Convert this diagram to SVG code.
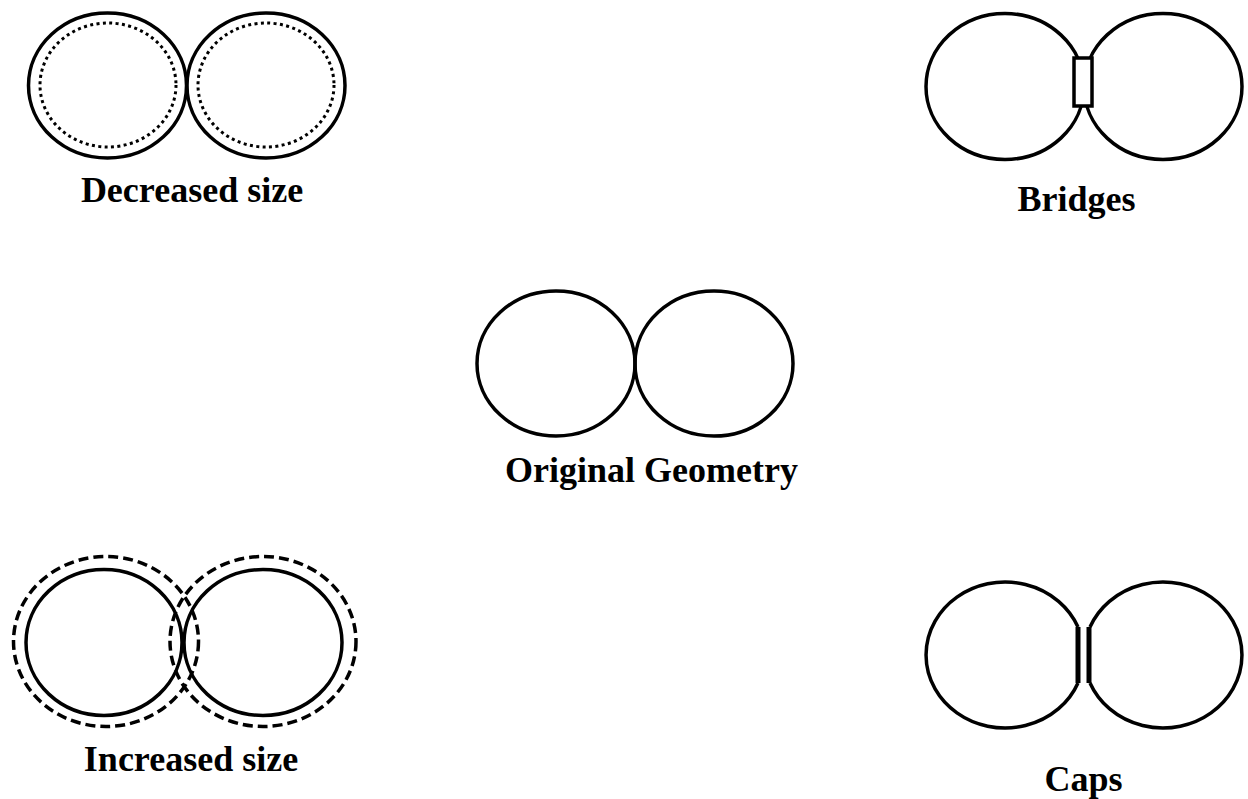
<svg xmlns="http://www.w3.org/2000/svg" width="1248" height="799" viewBox="0 0 1248 799">
<style>
.s{fill:none;stroke:#000;stroke-width:3.5}
.dot{fill:none;stroke:#000;stroke-width:3;stroke-dasharray:3 3.4}
.dash{fill:none;stroke:#000;stroke-width:3.5;stroke-dasharray:10 5}
.cap{stroke:#000;stroke-width:5}
.t{font-family:"Liberation Serif","Times New Roman",serif;font-weight:bold;font-size:36px;text-anchor:middle;fill:#000}
</style>
<rect width="1248" height="799" fill="#fff"/>
<g id="decreased">
<ellipse class="s" cx="107.5" cy="85.5" rx="79" ry="72.5"/>
<ellipse class="s" cx="266" cy="85.5" rx="79" ry="72.5"/>
<ellipse class="dot" cx="108" cy="85" rx="68" ry="62"/>
<ellipse class="dot" cx="266" cy="85" rx="68" ry="62"/>
<text class="t" x="192" y="202">Decreased size</text>
</g>
<g id="bridges">
<ellipse class="s" cx="1005" cy="86.5" rx="79" ry="73"/>
<ellipse class="s" cx="1163" cy="86.5" rx="79" ry="73"/>
<rect x="1074" y="58" width="18" height="48" fill="#fff" stroke="#000" stroke-width="3.5"/>
<text class="t" x="1076.5" y="211">Bridges</text>
</g>
<g id="original">
<ellipse class="s" cx="556" cy="363.5" rx="79" ry="72.5"/>
<ellipse class="s" cx="714" cy="363.5" rx="79" ry="72.5"/>
<text class="t" x="651.5" y="482">Original Geometry</text>
</g>
<g id="increased">
<ellipse class="s" cx="104" cy="642.5" rx="78" ry="73"/>
<ellipse class="s" cx="263" cy="642.5" rx="79" ry="73"/>
<ellipse class="dash" cx="106" cy="641.5" rx="92.5" ry="85"/>
<ellipse class="dash" cx="263" cy="641.5" rx="93" ry="85"/>
<text class="t" x="191" y="771">Increased size</text>
</g>
<g id="caps">
<path class="s" d="M1078,627 A79,73 0 1 0 1078,683"/>
<path class="s" d="M1090,627 A79,73 0 1 1 1090,683"/>
<line class="cap" x1="1078" y1="627" x2="1078" y2="683"/>
<line class="cap" x1="1089" y1="627" x2="1089" y2="683"/>
<text class="t" x="1083.5" y="791">Caps</text>
</g>
<g id="connectors"/>
</svg>
